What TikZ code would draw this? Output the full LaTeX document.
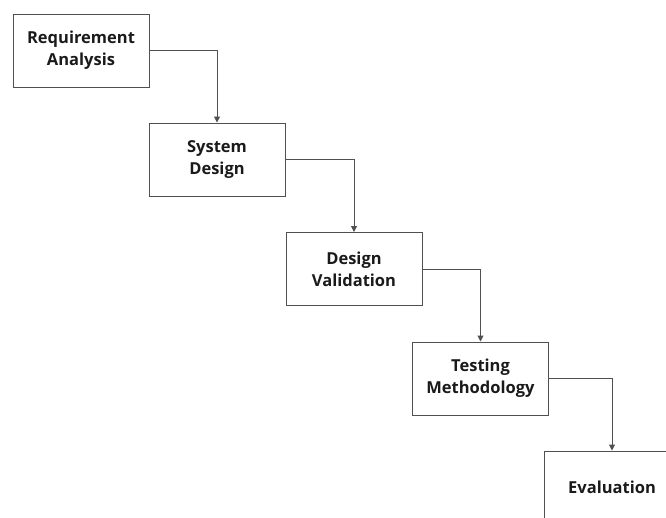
\documentclass[tikz,border=0pt]{standalone}
\usepackage{fontspec}
\setmainfont{Open Sans}
\usetikzlibrary{arrows.meta}
\definecolor{edgegray}{HTML}{505050}
\definecolor{textdark}{HTML}{1A1A1A}
\tikzset{
  stage/.style={draw=edgegray, line width=1pt, minimum width=136pt, minimum height=73pt,
    inner sep=0pt, align=center, font=\fontsize{16.5}{22}\selectfont\bfseries, text=textdark},
  flow/.style={draw=edgegray, line width=1pt, -{Triangle[length=6pt,width=6pt]}}
}
\begin{document}
\begin{tikzpicture}[x=1pt,y=-1pt]
\useasboundingbox (0,0) rectangle (666,517);
\clip (0,0) rectangle (666,517);
\node[stage] (req) at (81,50.5) {Requirement\\Analysis};
\node[stage] (sys) at (217,159.5) {System\\Design};
\node[stage] (val) at (354,269) {Design\\Validation};
\node[stage] (test) at (480.5,378.5) {Testing\\Methodology};
\node[stage] (eval) at (612,487.5) {Evaluation};
\draw[flow] (req.east) -| (sys.north);
\draw[flow] (sys.east) -| (val.north);
\draw[flow] (val.east) -| (test.north);
\draw[flow] (test.east) -| (eval.north);
\end{tikzpicture}
\end{document}
